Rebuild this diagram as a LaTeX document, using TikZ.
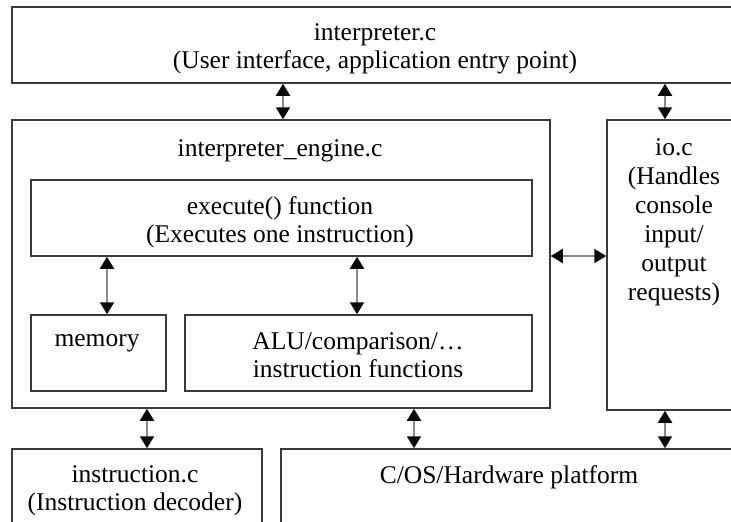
\documentclass[tikz,border=0pt]{standalone}
\usepackage{fontspec}
\setmainfont{Liberation Serif}
\usetikzlibrary{arrows.meta,fit}
\definecolor{boxline}{HTML}{3A3A3A}
\definecolor{shaft}{HTML}{8A8A8A}
\definecolor{headcol}{HTML}{0A0A0A}
\begin{document}
\begin{tikzpicture}[x=1pt,y=-1pt,
  box/.style={draw=boxline,line width=1.5pt,inner sep=0pt},
  lbl/.style={align=center,font=\fontsize{25.5}{28.5}\selectfont,inner sep=0pt},
  iolbl/.style={align=center,font=\fontsize{25.5}{29}\selectfont,inner sep=0pt},
  biarrow/.style={draw=shaft,line width=2pt,arrows={Triangle[length=12pt,width=14pt,color=headcol]-Triangle[length=12pt,width=14pt,color=headcol]}}]
\path[use as bounding box,clip] (0,0) rectangle (731,522);

% module boxes
\node[box,fit={(12,7) (760,83)}] (top) {};
\node[box,fit={(12,120) (550,408)}] (eng) {};
\node[box,fit={(31,180) (532,256)}] (exec) {};
\node[box,fit={(31,315) (166,391)}] (mem) {};
\node[box,fit={(185,315) (532,391)}] (alu) {};
\node[box,fit={(607,120) (760,410)}] (io) {};
\node[box,fit={(12,449) (262,560)}] (instr) {};
\node[box,fit={(281,449) (760,560)}] (cos) {};

% labels
\node[lbl] (topt) at (375,49) {interpreter.c\\(User interface, application entry point)};
\node[lbl] (engt) at (280,151) {interpreter\_engine.c};
\node[lbl] (exect) at (280,222) {execute() function\\(Executes one instruction)};
\node[lbl] (memt) at (97,343) {memory};
\node[lbl] (alut) at (358,355) {ALU/comparison/\ldots\\instruction functions};
\node[iolbl] (iot) at (674,222) {io.c\\(Handles\\console\\input/\\output\\requests)};
\node[lbl] (instrt) at (135,491) {instruction.c\\(Instruction decoder)};
\node[lbl] (cost) at (509,477) {C/OS/Hardware platform};

% connector columns
\coordinate (xa) at (283,0);
\coordinate (xb) at (665,0);
\coordinate (xc) at (107,0);
\coordinate (xd) at (357,0);
\coordinate (xe) at (147,0);
\coordinate (xf) at (414,0);
\coordinate (yg) at (0,256);

% connectors
\draw[biarrow] (top.south -| xa) -- (eng.north -| xa);
\draw[biarrow] (top.south -| xb) -- (io.north -| xb);
\draw[biarrow] (exec.south -| xc) -- (mem.north -| xc);
\draw[biarrow] (exec.south -| xd) -- (alu.north -| xd);
\draw[biarrow] (eng.east |- yg) -- (io.west |- yg);
\draw[biarrow] (eng.south -| xe) -- (instr.north -| xe);
\draw[biarrow] (eng.south -| xf) -- (cos.north -| xf);
\draw[biarrow] (io.south -| xb) -- (cos.north -| xb);
\end{tikzpicture}
\end{document}
